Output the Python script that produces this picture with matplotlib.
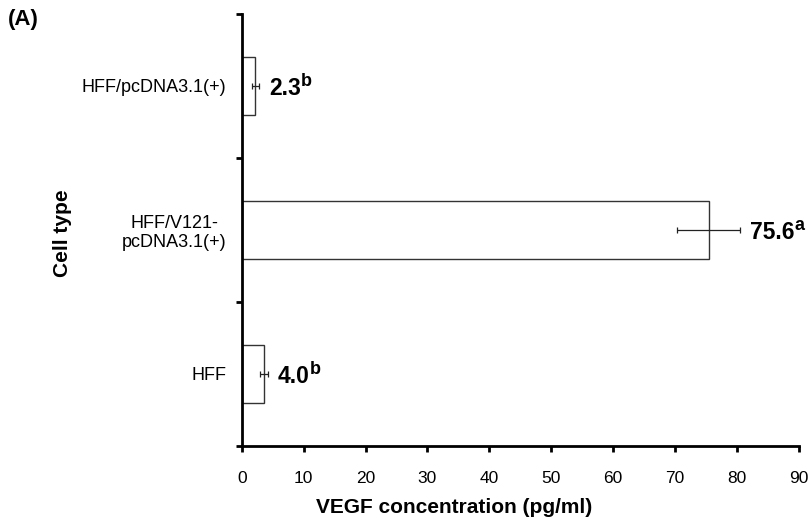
import numpy as np
import matplotlib
matplotlib.use("Agg")
import matplotlib.pyplot as plt

plt.rcParams['font.family'] = ['Liberation Sans', 'DejaVu Sans']

# data, bottom to top
cells = ['HFF', 'HFF/V121-\npcDNA3.1(+)', 'HFF/pcDNA3.1(+)']
vegf = [3.6, 75.4, 2.2]
err = [0.6, 5.1, 0.6]
value_text = ['4.0', '75.6', '2.3']
letters = ['b', 'a', 'b']

fig = plt.figure(figsize=(8.1, 5.26), dpi=100)
ax = fig.add_axes([0.2984, 0.152, 0.688, 0.822])

y = np.arange(len(cells))
ax.barh(y, vegf, height=0.4, color='white', edgecolor='#333333', linewidth=1.0)
ax.errorbar(vegf, y, xerr=err, fmt='none', ecolor='#222222', elinewidth=0.9,
            capsize=2.5, capthick=0.9)

ax.set_xlim(0, 90)
ax.set_ylim(-0.5, 2.5)
ax.set_xticks(np.arange(0, 91, 10))
ax.set_yticks([-0.5, 0.5, 1.5, 2.5])
ax.set_yticklabels([])
ax.set_yticks(y, minor=True)
ax.set_yticklabels(cells, minor=True, multialignment='center')
ax.tick_params(axis='y', which='minor', length=0, pad=11, labelsize=13)
ax.tick_params(axis='y', which='major', length=4, width=2, direction='out')
ax.tick_params(axis='x', length=4, width=2, direction='out', pad=14, labelsize=12.5)

for s in ['top', 'right']:
    ax.spines[s].set_visible(False)
for s in ['left', 'bottom']:
    ax.spines[s].set_linewidth(2)

# value labels with superscript letters
main_txt = []
for i in range(len(cells)):
    t = ax.annotate(value_text[i], xy=(vegf[i] + err[i], y[i]), xytext=(7, -6.8),
                    textcoords='offset points', ha='left', va='baseline',
                    fontsize=16.5, fontweight='bold')
    main_txt.append(t)
fig.canvas.draw()
r = fig.canvas.get_renderer()
for i, t in enumerate(main_txt):
    w = t.get_window_extent(r).width * 72 / fig.dpi
    ax.annotate(letters[i], xy=(vegf[i] + err[i], y[i]), xytext=(7 + w + 0.2, 0),
                textcoords='offset points', ha='left', va='baseline',
                fontsize=13, fontweight='bold')

fig.text(0.5605, 0.036, 'VEGF concentration (pg/ml)', ha='center', va='center',
         fontsize=15, fontweight='bold')
fig.text(0.077, 0.557, 'Cell type', ha='center', va='center', rotation=90,
         fontsize=15, fontweight='bold')
fig.text(0.01, 0.962, '(A)', ha='left', va='center', fontsize=16, fontweight='bold')

fig.savefig('out.png', dpi=100)
